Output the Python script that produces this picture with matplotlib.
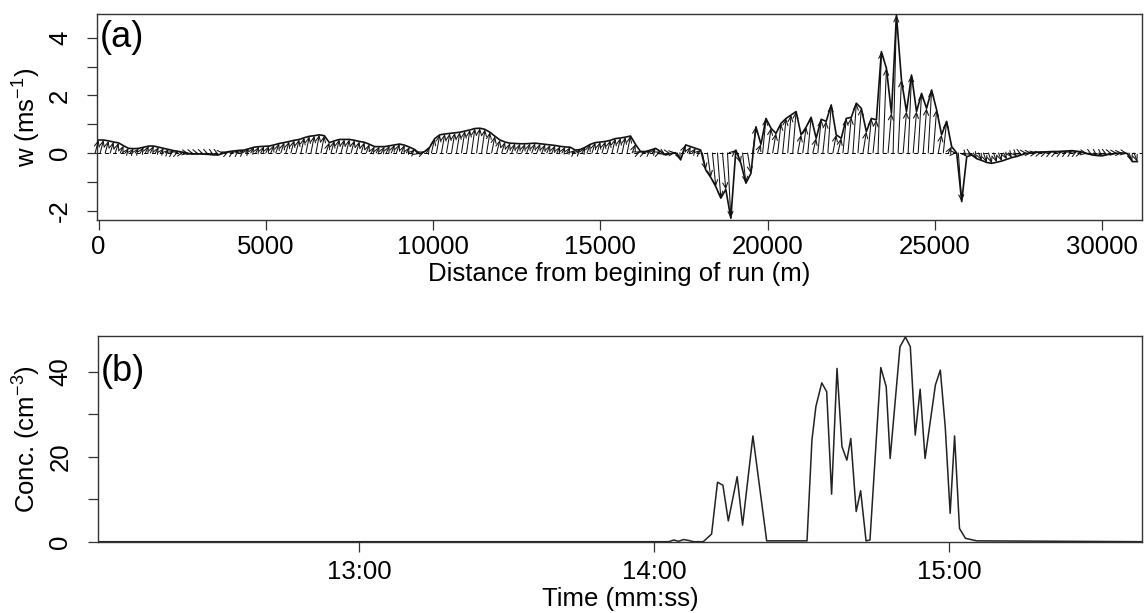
import numpy as np
import matplotlib
matplotlib.use("Agg")
import matplotlib.pyplot as plt
from matplotlib.ticker import FuncFormatter

plt.rcParams['font.family'] = ['Liberation Sans', 'DejaVu Sans']
plt.rcParams['mathtext.fontset'] = 'custom'
plt.rcParams['mathtext.rm'] = 'Liberation Sans'
plt.rcParams['mathtext.it'] = 'Liberation Sans:italic'

# ---------------- data ----------------
# Panel (a): vertical wind w (m/s) sampled every 150 m along the run
dist_step = 150.0
w_values = [
    0.45, 0.45, 0.42, 0.38, 0.35, 0.25, 0.16, 0.15, 0.16, 0.2,
    0.24, 0.24, 0.2, 0.16, 0.12, 0.08, 0.05, 0.02, -0.02, -0.03,
    -0.03, -0.04, -0.05, -0.07, -0.06, 0.0, 0.05, 0.07, 0.09, 0.1,
    0.15, 0.2, 0.22, 0.23, 0.24, 0.28, 0.33, 0.36, 0.4, 0.44,
    0.47, 0.53, 0.58, 0.6, 0.63, 0.6, 0.36, 0.42, 0.47, 0.47,
    0.47, 0.44, 0.4, 0.37, 0.3, 0.22, 0.22, 0.22, 0.25, 0.28,
    0.31, 0.27, 0.2, 0.12, -0.03, 0.05, 0.2, 0.5, 0.63, 0.66,
    0.68, 0.7, 0.72, 0.76, 0.8, 0.85, 0.86, 0.82, 0.72, 0.58,
    0.45, 0.38, 0.34, 0.33, 0.32, 0.32, 0.33, 0.34, 0.32, 0.3,
    0.28, 0.26, 0.23, 0.21, 0.2, 0.1, 0.12, 0.2, 0.3, 0.36,
    0.38, 0.4, 0.44, 0.5, 0.52, 0.55, 0.59, 0.3, 0.05, 0.05,
    0.1, 0.16, 0.05, -0.07, -0.02, 0.01, -0.24, 0.28, 0.22, 0.16,
    0.1, -0.59, -0.85, -1.17, -1.57, -1.27, -2.27, 0.1, -0.36, -1.05,
    -0.71, 0.91, 0.3, 1.2, 0.86, 0.68, 1.03, 1.2, 1.32, 1.44,
    0.63, 0.9, 1.24, 0.51, 1.17, 1.1, 1.67, 0.63, 0.51, 1.2,
    1.24, 1.73, 1.55, 0.74, 1.2, 1.15, 3.52, 2.94, 1.38, 4.79,
    2.53, 1.44, 2.71, 1.44, 2.07, 1.55, 2.19, 1.5, 0.63, 1.1,
    0.22, 0.0, -1.69, -0.13,
    -0.07, -0.2, -0.26, -0.33, -0.36, -0.32,
    -0.28, -0.22, -0.16, -0.12, -0.06, -0.01, 0.0, 0.02, 0.03, 0.04,
    0.05, 0.05, 0.06, 0.07, 0.08, 0.06, 0.03, -0.02, -0.07, -0.09,
    -0.1, -0.06, -0.03, -0.01, 0.0, -0.02, -0.3, -0.3,
]
distance = np.arange(len(w_values)) * dist_step

w_ticks = [-2, -1, 0, 1, 2, 3, 4]
w_ticklabels = ['-2', '', '0', '', '2', '', '4']
dist_ticks = [0, 5000, 10000, 15000, 20000, 25000, 30000]

# Panel (b): concentration (cm^-3) vs time (seconds past the hour)
conc_time = [727, 843, 844, 845, 846, 847, 848, 850, 851.7, 852.9, 854.0,
             855.1, 856.9, 858.0, 860.1, 862.9, 871.1, 872.1, 872.9, 874.1,
             875.1, 876.1, 877.2, 878.2, 879.2, 880.0, 881.1, 882.0, 883.1,
             883.9, 886.1, 887.2, 888.0, 890.0, 891.1, 892.1, 893.1, 894.1,
             895.1, 897.2, 898.2, 899.2, 900.2, 901.1, 902.1, 903.3, 905.6,
             939.5]
conc_values = [0, 0, 0.4, 0.1, 0.5, 0.3, 0, 0, 1.8, 14.0, 13.3,
               4.9, 15.3, 3.9, 24.9, 0.2, 0.2, 23.9, 31.8, 37.4,
               35.3, 11.2, 40.8, 22.4, 19.2, 24.3, 7.1, 12.0, 0.2,
               0.4, 41.0, 36.5, 19.6, 45.9, 48.2, 45.9, 25.1, 35.9,
               19.6, 36.9, 40.4, 27.0, 6.7, 24.9, 3.1, 0.8, 0.2,
               0]
conc_ticks = [0, 10, 20, 30, 40]
conc_ticklabels = ['0', '', '20', '', '40']
time_ticks = [780, 840, 900]

# ---------------- figure ----------------
W, H = 1147, 613
fig = plt.figure(figsize=(W / 100, H / 100), dpi=100)

def frac(l, t, r, b):
    return [l / W, 1 - b / H, (r - l) / W, (b - t) / H]

ax1 = fig.add_axes(frac(97.3, 14, 1141.7, 220))
ax2 = fig.add_axes(frac(97.7, 335.7, 1142, 541.7))

FS = 18.5
spine_col = '#333333'

# panel (a)
ax1.axhline(0, color='black', lw=0.7, ls=(0, (4, 4)), zorder=1)
arrow_dx = 100.0
for d, w in zip(distance, w_values):
    ax1.annotate('', xy=(d, w), xytext=(d - arrow_dx, 0),
                 arrowprops=dict(arrowstyle='->,head_length=0.4,head_width=0.18',
                                 lw=0.75, color='#111111', shrinkA=0, shrinkB=0),
                 annotation_clip=False)
ax1.plot(distance, w_values, color='#111111', lw=1.2, zorder=3)
ax1.set_xlim(-36, 31180)
ax1.set_ylim(-2.33, 4.83)
ax1.set_xticks(dist_ticks)
ax1.set_xticklabels([str(t) for t in dist_ticks])
ax1.set_yticks(w_ticks)
ax1.set_yticklabels(w_ticklabels, rotation=90, va='center')
ax1.set_xlabel('Distance from begining of run (m)', fontsize=FS, va='top')
ax1.xaxis.set_label_coords(0.5, -0.206)
ax1.set_ylabel(r'w (ms$^{-1}$)', fontsize=FS)
ax1.yaxis.set_label_coords(-0.052, 0.5)
ax1.text(0.0025, 4.0, '(a)', transform=ax1.get_yaxis_transform(),
         fontsize=26, ha='left', va='center')

# panel (b)
ax2.plot(conc_time, conc_values, color='#222222', lw=1.1)
ax2.set_xlim(726.9, 939.2)
ax2.set_ylim(0, 48.5)
ax2.set_xticks(time_ticks)
ax2.xaxis.set_major_formatter(FuncFormatter(
    lambda s, p: '%d:%02d' % (int(s) // 60, int(s) % 60)))
ax2.set_yticks(conc_ticks)
ax2.set_yticklabels(conc_ticklabels, rotation=90, va='center')
ax2.set_xlabel('Time (mm:ss)', fontsize=FS, va='top')
ax2.xaxis.set_label_coords(0.5, -0.222)
ax2.set_ylabel(r'Conc. (cm$^{-3}$)', fontsize=FS)
ax2.yaxis.set_label_coords(-0.052, 0.5)
ax2.text(0.0025, 40.0, '(b)', transform=ax2.get_yaxis_transform(),
         fontsize=26, ha='left', va='center')

for ax in (ax1, ax2):
    for s in ax.spines.values():
        s.set_color(spine_col)
        s.set_linewidth(1.0)
    ax.tick_params(axis='both', direction='out', length=7.2, width=0.9,
                   color=spine_col, labelsize=FS)
    ax.tick_params(axis='y', pad=11)
ax1.tick_params(axis='x', pad=3.5)
ax2.tick_params(axis='x', pad=6)

fig.savefig('out.png', dpi=100)
